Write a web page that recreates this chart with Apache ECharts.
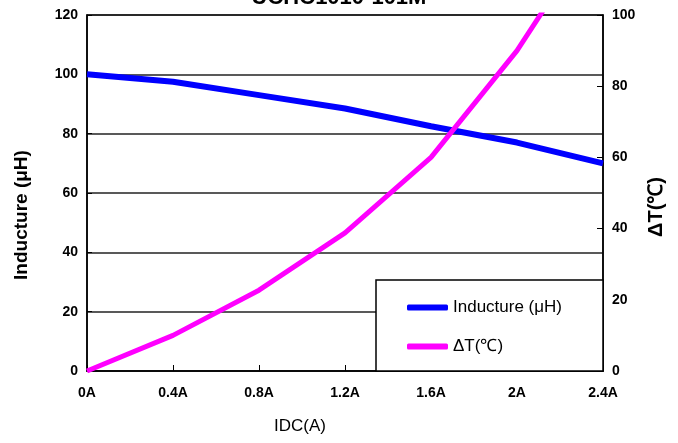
<!DOCTYPE html>
<html>
<head>
<meta charset="utf-8">
<script src="https://cdn.jsdelivr.net/npm/echarts@6/dist/echarts.min.js"></script>
<style>
  html, body { margin: 0; padding: 0; background: #fff; }
  #chart { width: 678px; height: 443px; }
</style>
</head>
<body>
<div id="chart"></div>
<script>
// current steps (A)
const currents = [0, 0.4, 0.8, 1.2, 1.6, 2.0, 2.4]
// inductance in uH (left axis)
const inductance = [100, 97.5, 93, 88.5, 82.5, 77, 70]
// temperature rise in C (right axis)
const tempRise = [0, 10, 22.7, 38.8, 60, 90, 127]

const fontFam = "'Liberation Sans Narrow', 'Liberation Sans', Arial, sans-serif"

const chart = echarts.init(document.getElementById('chart'))

const option = {
  animation: false,
  title: {
    text: 'UCHC1010-101M',
    left: 'center',
    top: -18,
    textStyle: { fontFamily: fontFam, fontSize: 22, fontWeight: 'bold', color: '#000' }
  },
  grid: {
    left: 87, right: 75, top: 15, bottom: 72,
    show: true, borderColor: '#000', borderWidth: 1.5
  },
  graphic: [{
    type: 'rect',
    z: 3,
    shape: { x: 376, y: 280, width: 227, height: 91 },
    style: { fill: '#fff', stroke: '#000', lineWidth: 1.5 }
  }],
  legend: {
    z: 10,
    orient: 'vertical',
    left: 402,
    top: 294,
    itemWidth: 41,
    itemHeight: 6,
    itemGap: 22,
    icon: 'roundRect',
    textStyle: { fontFamily: fontFam, fontSize: 17, color: '#000' },
    data: ['Inducture (μH)', 'ΔT(℃)']
  },
  xAxis: {
    type: 'value',
    min: 0, max: 2.4, interval: 0.4,
    name: 'IDC(A)',
    nameLocation: 'middle',
    nameGap: 47,
    nameTextStyle: { fontFamily: fontFam, fontSize: 17, color: '#000', padding: [0, 90, 0, 0] },
    axisLine: { lineStyle: { color: '#000', width: 1.5 } },
    axisTick: { inside: true, length: 6, lineStyle: { color: '#000' } },
    axisLabel: {
      margin: 15,
      fontFamily: fontFam, fontSize: 14, fontWeight: 'bold', color: '#000',
      formatter: v => parseFloat(v.toFixed(1)) + 'A'
    },
    splitLine: { show: false }
  },
  yAxis: [{
    type: 'value',
    min: 0, max: 120, interval: 20,
    name: 'Inducture (μH)',
    nameLocation: 'middle',
    nameGap: 56,
    nameTextStyle: { fontFamily: fontFam, fontSize: 19, fontWeight: 'bold', color: '#000', padding: [0, 44, 0, 0] },
    axisLine: { show: true, lineStyle: { color: '#000', width: 1.5 } },
    axisTick: { inside: true, length: 5, lineStyle: { color: '#000' } },
    axisLabel: { margin: 9, fontFamily: fontFam, fontSize: 14, fontWeight: 'bold', color: '#000' },
    splitLine: { show: true, lineStyle: { color: '#222', width: 1.5 } }
  }, {
    type: 'value',
    min: 0, max: 100, interval: 20,
    position: 'right',
    name: 'ΔT(℃)',
    nameLocation: 'middle',
    nameGap: 42,
    nameTextStyle: { fontFamily: fontFam, fontSize: 20, fontWeight: 'bold', color: '#000', padding: [0, 28, 0, 0] },
    axisLine: { show: true, lineStyle: { color: '#000', width: 1.5 } },
    axisTick: { inside: true, length: 6, lineStyle: { color: '#000' } },
    axisLabel: { margin: 9, fontFamily: fontFam, fontSize: 14, fontWeight: 'bold', color: '#000' },
    splitLine: { show: false }
  }],
  series: [{
    name: 'Inducture (μH)',
    type: 'line',
    yAxisIndex: 0,
    showSymbol: false,
    color: '#0000ff',
    lineStyle: { width: 6, color: '#0000ff' },
    data: currents.map((c, i) => [c, inductance[i]])
  }, {
    name: 'ΔT(℃)',
    type: 'line',
    yAxisIndex: 1,
    showSymbol: false,
    color: '#ff00ff',
    lineStyle: { width: 5, color: '#ff00ff' },
    data: currents.map((c, i) => [c, tempRise[i]])
  }]
}

chart.setOption(option)
</script>
</body>
</html>
